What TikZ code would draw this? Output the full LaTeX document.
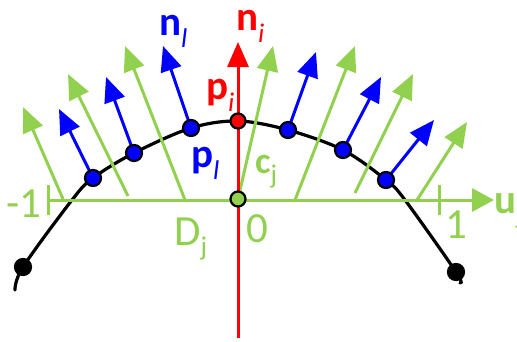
\documentclass[tikz,border=0pt]{standalone}
\usepackage{fontspec}
\setmainfont{Carlito}
\usetikzlibrary{arrows.meta}
\definecolor{lgreen}{HTML}{92D050}
\newcommand\mysub[2][-12pt]{\raisebox{#1}{\fontsize{27}{27}\selectfont\mdseries #2}}
\begin{document}
\begin{tikzpicture}[x=1pt,y=-1pt,
  garrow/.style={draw=lgreen, line width=3pt, -{Triangle[length=25pt,width=21pt]}},
  barrow/.style={draw=blue, line width=3pt, -{Triangle[length=25pt,width=21pt]}},
  rarrow/.style={draw=red, line width=3pt, -{Triangle[length=25pt,width=21pt]}},
  axisline/.style={draw=lgreen, line width=3pt},
  dotstyle/.style={circle, draw=black, line width=2.2pt, inner sep=0pt, minimum size=16pt},
  bdot/.style={dotstyle, fill=blue},
  kdot/.style={dotstyle, fill=black},
  lab/.style={anchor=base west, inner sep=0pt, font=\fontsize{43}{43}\selectfont},
  blab/.style={lab, font=\fontsize{41}{41}\selectfont\bfseries}
]
\useasboundingbox (0,0) rectangle (517,341);

% points on the curve
\coordinate (E1) at (23,267);
\coordinate (P1) at (93,178);
\coordinate (P2) at (134,153);
\coordinate (P3) at (191,128);
\coordinate (PI) at (238,121);
\coordinate (P4) at (288,130);
\coordinate (P5) at (343,150);
\coordinate (P6) at (386,180);
\coordinate (E2) at (456,272);
\coordinate (C) at (238,199);

% curve
\draw[black, line width=3.2pt, line cap=round] plot[smooth, tension=0.55] coordinates
  {(15,290) (E1) (72,200) (P1) (P2) (P3) (PI) (P4) (P5) (P6) (405,200) (E2) (460,283)};

% axis
\coordinate (A0) at (48,200);
\coordinate (A1) at (494,200);
\draw[axisline, -{Triangle[length=22pt,width=23pt]}] (A0) -- (A1);
\coordinate (T0a) at (48,185); \coordinate (T0b) at (48,215);
\coordinate (T1a) at (439,185); \coordinate (T1b) at (439,215);
\draw[axisline] (T0a) -- (T0b);
\draw[axisline] (T1a) -- (T1b);

% green rays
\coordinate (G1a) at (63,199);  \coordinate (G1b) at (23,107);
\coordinate (G2a) at (128,196); \coordinate (G2b) at (68,74);
\coordinate (G3a) at (185,200); \coordinate (G3b) at (125,46);
\coordinate (G4b) at (273,46);
\coordinate (G5a) at (295,200); \coordinate (G5b) at (355,46);
\coordinate (G6a) at (355,193); \coordinate (G6b) at (413,74);
\coordinate (G7a) at (417,200); \coordinate (G7b) at (467,122);
\draw[garrow] (G1a) -- (G1b);
\draw[garrow] (G2a) -- (G2b);
\draw[garrow] (G3a) -- (G3b);
\draw[garrow] (C) -- (G4b);
\draw[garrow] (G5a) -- (G5b);
\draw[garrow] (G6a) -- (G6b);
\draw[garrow] (G7a) -- (G7b);

% blue normals
\coordinate (B1) at (59,109);
\coordinate (B2) at (106,77);
\coordinate (B3) at (163,46);
\coordinate (B4) at (316,52);
\coordinate (B5) at (381,77);
\coordinate (B6) at (434,120);
\draw[barrow] (P1) -- (B1);
\draw[barrow] (P2) -- (B2);
\draw[barrow] (P3) -- (B3);
\draw[barrow] (P4) -- (B4);
\draw[barrow] (P5) -- (B5);
\draw[barrow] (P6) -- (B6);

% red normal
\coordinate (R0) at (238,338);
\coordinate (R1) at (238,42);
\draw[rarrow] (R0) -- (R1);

% dots
\node[kdot] (e1) at (E1) {};
\node[kdot] (e2) at (E2) {};
\node[bdot] (p1) at (P1) {};
\node[bdot] (p2) at (P2) {};
\node[bdot] (p3) at (P3) {};
\node[bdot] (p4) at (P4) {};
\node[bdot] (p5) at (P5) {};
\node[bdot] (p6) at (P6) {};
\node[dotstyle, fill=red, minimum size=15pt] (pi) at (PI) {};
\node[dotstyle, fill=lgreen, minimum size=15pt] (c) at (C) {};

% labels
\node[blab, text=blue] (nl) at (159,35) {n\mysub{\itshape l}};
\node[blab, text=red] (ni) at (236,30) {n\mysub{\itshape i}};
\node[blab, text=red] (pil) at (206,99) {p\mysub{\itshape i}};
\node[blab, text=blue] (pll) at (191,167) {p\mysub{\itshape l}};
\node[blab, text=lgreen, font=\fontsize{37}{37}\selectfont\bfseries] (cl) at (255,173) {c\mysub[-10pt]{j}};
\node[lab, text=lgreen] (dl) at (174,245) {D\mysub[-10pt]{j}};
\node[lab, text=lgreen] (zl) at (246,242) {0};
\node[lab, text=lgreen] (onel) at (445,238) {1};
\node[lab, text=lgreen] (mone) at (6,217) {-1};
\node[blab, text=lgreen] (ul) at (494,213) {u\mysub[-10pt]{j}};
\end{tikzpicture}
\end{document}
